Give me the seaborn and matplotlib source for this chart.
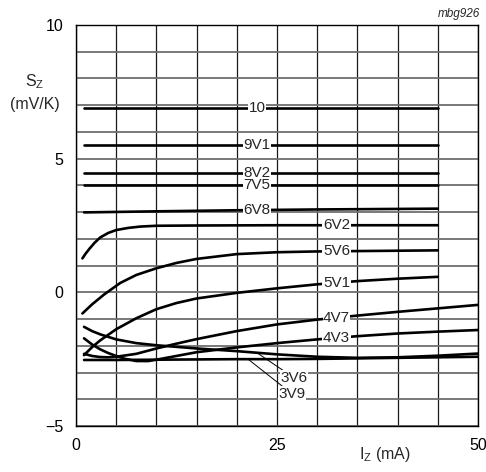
import matplotlib
matplotlib.use("Agg")
import matplotlib.pyplot as plt
import seaborn as sns

# zener temperature coefficient S_Z (mV/K) vs working current I_Z (mA)
x_10 = [1, 45]
y_10 = [6.88, 6.88]
x_9v1 = [1, 45]
y_9v1 = [5.5, 5.5]
x_8v2 = [1, 45]
y_8v2 = [4.48, 4.48]
x_7v5 = [1, 45]
y_7v5 = [4.0, 4.0]
x_6v8 = [1, 10, 20, 30, 45]
y_6v8 = [2.99, 3.03, 3.07, 3.1, 3.13]
x_6v2 = [0.8, 1.2, 1.7, 2.3, 3, 4, 5, 6.5, 8, 10, 15, 25, 45]
y_6v2 = [1.27, 1.45, 1.64, 1.85, 2.05, 2.22, 2.33, 2.41, 2.46, 2.49, 2.5, 2.51, 2.51]
x_5v6 = [0.8, 2, 3.5, 5.5, 7.5, 10, 12.5, 15, 20, 25, 30, 45]
y_5v6 = [-0.79, -0.45, -0.08, 0.35, 0.65, 0.9, 1.1, 1.25, 1.43, 1.5, 1.53, 1.57]
x_5v1 = [1, 2, 3, 5, 7.5, 10, 12.5, 15, 20, 25, 30, 35, 40, 45]
y_5v1 = [-2.35, -2.05, -1.8, -1.38, -0.97, -0.63, -0.4, -0.23, -0.02, 0.15, 0.3, 0.42, 0.51, 0.58]
x_4v7 = [1, 2, 3, 4, 5, 7.5, 10, 12.5, 15, 20, 25, 30, 35, 40, 45, 50]
y_4v7 = [-2.3, -2.38, -2.42, -2.43, -2.41, -2.3, -2.1, -1.92, -1.75, -1.45, -1.2, -1.02,
         -0.87, -0.73, -0.6, -0.47]
x_4v3 = [1, 2, 3, 4, 5, 6, 7.5, 9, 10, 12.5, 15, 20, 25, 30, 35, 40, 45, 50]
y_4v3 = [-1.72, -1.95, -2.13, -2.27, -2.38, -2.48, -2.57, -2.57, -2.52, -2.38, -2.24, -2.06,
         -1.9, -1.76, -1.64, -1.54, -1.47, -1.41]
x_3v6 = [1, 2, 3, 5, 7.5, 10, 12.5, 15, 20, 25, 30, 35, 40, 45, 50]
y_3v6 = [-1.29, -1.45, -1.57, -1.76, -1.9, -1.98, -2.04, -2.1, -2.2, -2.32, -2.41, -2.45,
         -2.43, -2.37, -2.29]
x_3v9 = [1, 5, 10, 15, 20, 25, 30, 35, 40, 45, 50]
y_3v9 = [-2.53, -2.53, -2.52, -2.51, -2.5, -2.5, -2.49, -2.47, -2.45, -2.43, -2.41]

curves = [
    ("10", x_10, y_10), ("9V1", x_9v1, y_9v1), ("8V2", x_8v2, y_8v2),
    ("7V5", x_7v5, y_7v5), ("6V8", x_6v8, y_6v8), ("6V2", x_6v2, y_6v2),
    ("5V6", x_5v6, y_5v6), ("5V1", x_5v1, y_5v1), ("4V7", x_4v7, y_4v7),
    ("4V3", x_4v3, y_4v3), ("3V6", x_3v6, y_3v6), ("3V9", x_3v9, y_3v9),
]
# inline labels sit on the curve at this current
left_labels = ["10", "9V1", "8V2", "7V5", "6V8"]
right_labels = ["6V2", "5V6", "5V1", "4V7", "4V3"]
label_left_x = 22.5
label_right_x = 32.4
# leader-line labels: (name, point on curve, label position)
leaders = [("3V6", (22.6, -2.28), (25.4, -3.19)),
           ("3V9", (21.4, -2.5), (25.2, -3.8))]

sns.set_style("white")
plt.rcParams["font.family"] = ["Liberation Sans", "DejaVu Sans"]
plt.rcParams["mathtext.fontset"] = "custom"
plt.rcParams["mathtext.rm"] = "Liberation Sans"

fig = plt.figure(figsize=(4.86, 4.72), dpi=100)
ax = fig.add_axes([76 / 486, 1 - 426 / 472, 402 / 486, 401 / 472])

for name, xs, ys in curves:
    sns.lineplot(x=xs, y=ys, ax=ax, color="black", linewidth=1.9, zorder=2,
                 estimator=None, sort=False)

box = dict(facecolor="white", edgecolor="none", pad=0.3)
for name, xs, ys in curves:
    if name in left_labels or name in right_labels:
        lx = label_left_x if name in left_labels else label_right_x
        # curve value at the label position
        ly = ys[0]
        for i in range(len(xs) - 1):
            if xs[i] <= lx <= xs[i + 1]:
                t = (lx - xs[i]) / (xs[i + 1] - xs[i])
                ly = ys[i] + t * (ys[i + 1] - ys[i])
        ax.text(lx, ly, name, ha="center", va="center", fontsize=11,
                bbox=box, zorder=4)

for name, pt, pos in leaders:
    ax.annotate(name, xy=pt, xytext=pos, fontsize=11, ha="left", va="center",
                bbox=box, zorder=4,
                arrowprops=dict(arrowstyle="-", color="black", lw=0.7,
                                shrinkA=0, shrinkB=0))

ax.set_xlim(0, 50)
ax.set_ylim(-5, 10)
ax.set_xticks([0, 25, 50])
ax.set_yticks([-5, 0, 5, 10])
ax.set_xticks(range(0, 51, 5), minor=True)
ax.set_yticks(range(-5, 11), minor=True)
ax.grid(axis="x", which="both", color="#1a1a1a", linewidth=0.9, zorder=0)
ax.grid(axis="y", which="both", color="#6e6e6e", linewidth=1.3, zorder=0)
ax.set_axisbelow(True)
ax.tick_params(which="both", length=0, labelsize=11.5, colors="black")
ax.tick_params(axis="x", pad=9)
ax.tick_params(axis="y", pad=9)
for s in ax.spines.values():
    s.set_color("black")
    s.set_linewidth(1.0)

fig.text(35 / 486, 1 - 82 / 472, "S$_\\mathregular{Z}$", ha="center", va="center", fontsize=11.5)
fig.text(35 / 486, 1 - 104 / 472, "(mV/K)", ha="center", va="center", fontsize=11.5)
fig.text(385 / 486, 1 - 455 / 472, "I$_\\mathregular{Z}$ (mA)", ha="center", va="center",
         fontsize=11.5)
fig.text(480 / 486, 1 - 14 / 472, "mbg926", ha="right", va="center", fontsize=8.5,
         style="italic")

fig.savefig("out.png", dpi=100)
